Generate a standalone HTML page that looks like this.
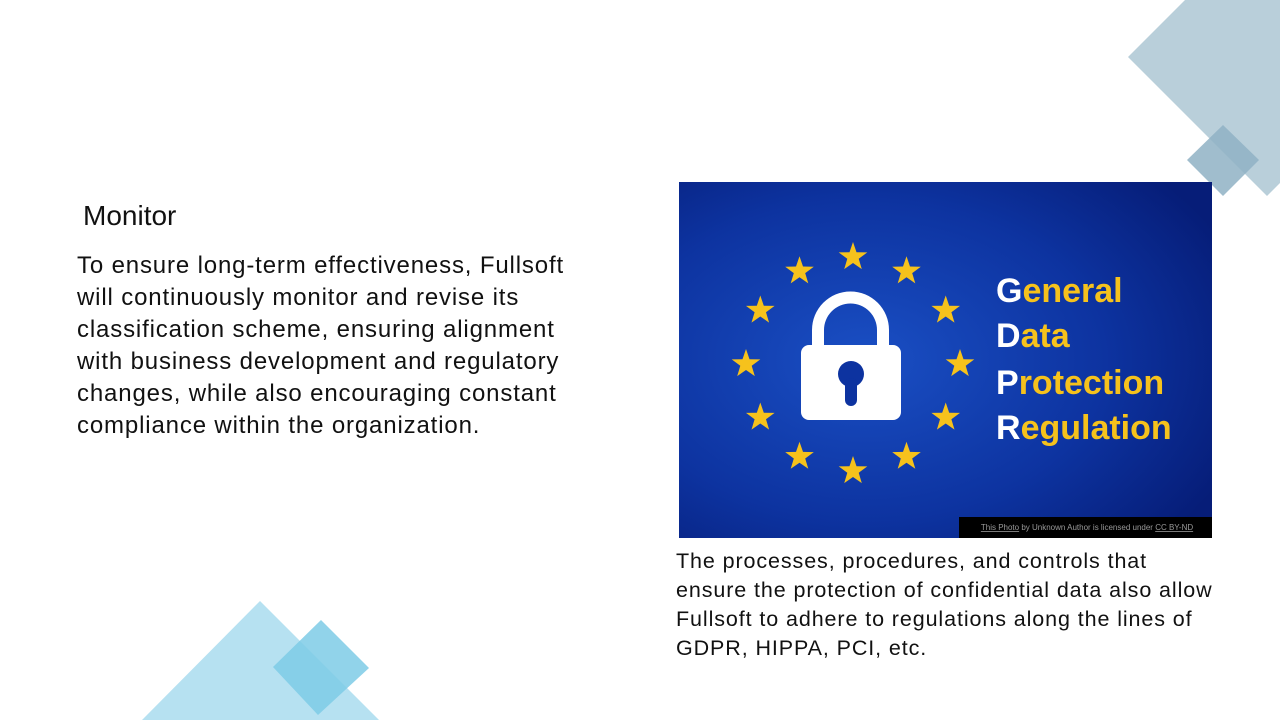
<!DOCTYPE html>
<html><head><meta charset="utf-8"><style>
html,body{margin:0;padding:0;}
body{width:1280px;height:720px;position:relative;overflow:hidden;background:#fff;font-family:"Liberation Sans",sans-serif;color:#111;}
.t{position:absolute;white-space:nowrap;}
#title{left:83px;top:199px;font-size:28px;line-height:34px;}
#para{left:77px;top:250px;font-size:24px;line-height:32px;letter-spacing:0.85px;}
#cap{left:676px;top:547px;font-size:21.5px;line-height:29px;letter-spacing:0.9px;}
</style></head><body>
<svg width="1280" height="720" style="position:absolute;left:0;top:0">
<polygon points="1128,57 1185,0 1280,0 1280,183 1267,196" fill="#b9cfda"/>
<polygon points="1187,160 1223,125 1259,160 1223,196" fill="#8fb2c4" opacity="0.85"/>
<polygon points="142,720 260,601 379,720" fill="#b6e1f1"/>
<polygon points="273,667 321,620 369,668 318,715" fill="#7ecbe6" opacity="0.85"/>
</svg>
<div class="t" id="title">Monitor</div>
<div class="t" id="para">To ensure long-term effectiveness, Fullsoft<br>will continuously monitor and revise its<br>classification scheme, ensuring alignment<br>with business development and regulatory<br>changes, while also encouraging constant<br>compliance within the organization.</div>
<svg width="533" height="356" style="position:absolute;left:679px;top:182px" viewBox="679 182 533 356">
<defs><radialGradient id="bg" cx="0.35" cy="0.5" r="0.75"><stop offset="0" stop-color="#1a4fc4"/><stop offset="0.6" stop-color="#0d33a0"/><stop offset="1" stop-color="#061d78"/></radialGradient>
<polygon id="st" points="0,-15 3.5,-4.8 14.3,-4.6 5.7,1.8 8.8,12.1 0,6 -8.8,12.1 -5.7,1.8 -14.3,-4.6 -3.5,-4.8"/></defs>
<rect x="679" y="182" width="533" height="356" fill="url(#bg)"/>
<g id="stars" fill="#f6c21c"></g>
<g>
<path d="M812,348 V330 A38.5,38.5 0 0 1 889,330 V348 H877 V330 A26.5,26.5 0 0 0 824,330 V348 Z" fill="#fff"/>
<rect x="801" y="345" width="100" height="75" rx="8" fill="#fff"/>
<circle cx="851" cy="374" r="13" fill="#0d33a0"/>
<rect x="845" y="378" width="12" height="28" rx="6" fill="#0d33a0"/>
</g>
<g font-family="Liberation Sans, sans-serif" font-weight="bold" font-size="34" fill="#f6c21c">
<text x="996" y="302"><tspan fill="#fff">G</tspan>eneral</text>
<text x="996" y="347"><tspan fill="#fff">D</tspan>ata</text>
<text x="996" y="394"><tspan fill="#fff">P</tspan>rotection</text>
<text x="996" y="439"><tspan fill="#fff">R</tspan>egulation</text>
</g>
<rect x="959" y="517" width="253" height="21" fill="#000"/>
<text x="1087" y="530" font-size="8" fill="#999" text-anchor="middle" font-family="Liberation Sans, sans-serif"><tspan text-decoration="underline">This Photo</tspan> by Unknown Author is licensed under <tspan text-decoration="underline">CC BY-ND</tspan></text>
</svg>
<div class="t" id="cap">The processes, procedures, and controls that<br>ensure the protection of confidential data also allow<br>Fullsoft to adhere to regulations along the lines of<br>GDPR, HIPPA, PCI, etc.</div>
<script>
var g=document.getElementById('stars');
for(var i=0;i<12;i++){
  var a=i*Math.PI/6;
  var u=document.createElementNS('http://www.w3.org/2000/svg','use');
  u.setAttribute('href','#st');
  u.setAttribute('x',(853+107*Math.sin(a)).toFixed(1));
  u.setAttribute('y',(364-107*Math.cos(a)).toFixed(1));
  
  
  g.appendChild(u);
}
</script>
</body></html>
